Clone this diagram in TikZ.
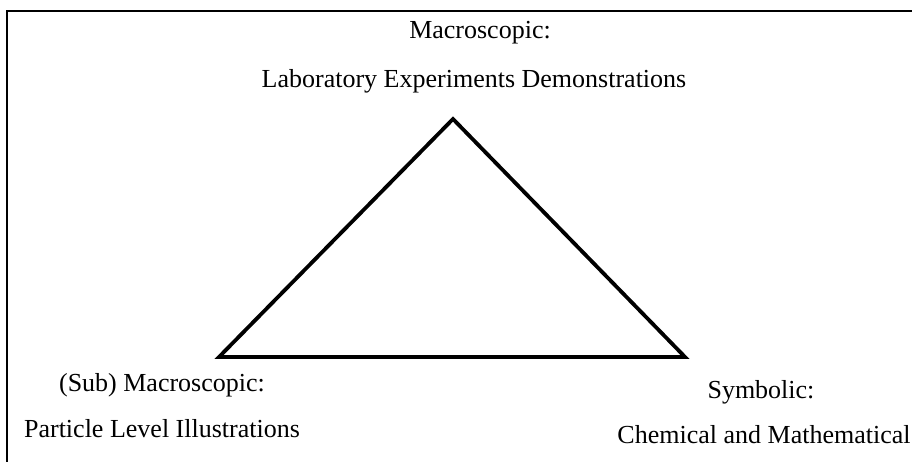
\documentclass[tikz,border=0pt]{standalone}
\usepackage{fontspec}
\setmainfont{Liberation Serif}
\begin{document}
\begin{tikzpicture}[x=1pt,y=-1pt,
  lbl/.style={anchor=base,inner sep=0pt,font=\fontsize{26}{30}\selectfont},
  frameline/.style={line width=1.6pt},
  tri/.style={line width=3.8pt,line join=miter}]
\useasboundingbox (0,0) rectangle (912,462);
\coordinate (ftr) at (912,11);
\coordinate (ftl) at (7,11);
\coordinate (fbl) at (7,462);
\draw[frameline] (ftr) -- (ftl) -- (fbl);
\coordinate (apex) at (453,119);
\coordinate (bl) at (219,357);
\coordinate (br) at (685,357);
\draw[tri] (apex) -- (bl) -- (br) -- cycle;
\node[lbl] (m1) at (480,39) {Macroscopic:};
\node[lbl] (m2) at (474,88) {Laboratory Experiments Demonstrations};
\node[lbl] (s1) at (162,391) {(Sub) Macroscopic:};
\node[lbl] (s2) at (162,437) {Particle Level Illustrations};
\node[lbl] (y1) at (761,398) {Symbolic:};
\node[lbl] (y2) at (764,443) {Chemical and Mathematical};
\end{tikzpicture}
\end{document}
